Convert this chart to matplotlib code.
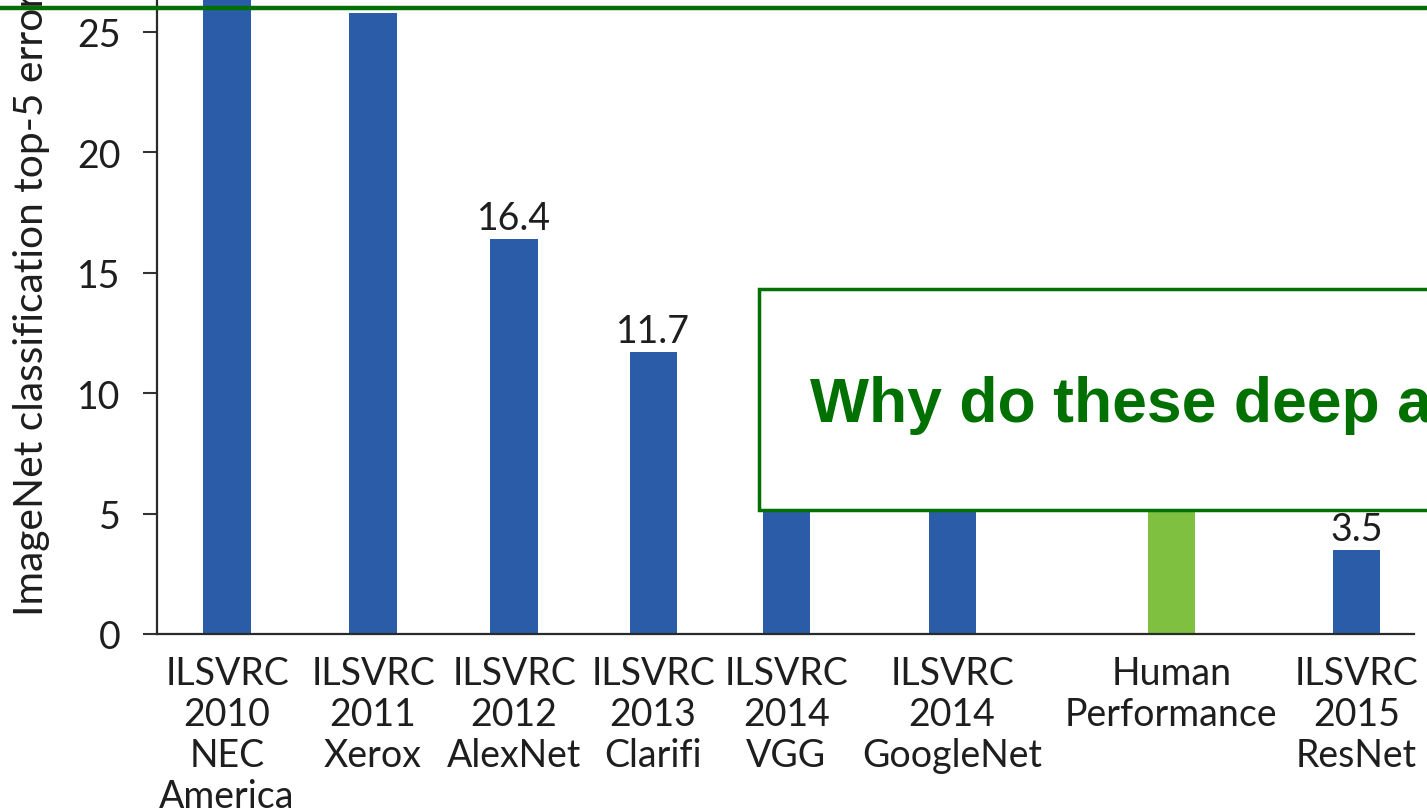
import matplotlib.pyplot as plt
from matplotlib.patches import Rectangle

# data
labels = ['ILSVRC\n2010\nNEC\nAmerica', 'ILSVRC\n2011\nXerox', 'ILSVRC\n2012\nAlexNet',
          'ILSVRC\n2013\nClarifi', 'ILSVRC\n2014\nVGG', 'ILSVRC\n2014\nGoogleNet',
          'Human\nPerformance', 'ILSVRC\n2015\nResNet']
errors = [28.2, 25.8, 16.4, 11.7, 7.3, 6.7, 5.1, 3.5]
is_human = [False, False, False, False, False, False, True, False]
shown_values = [False, False, True, True, True, True, True, True]

# layout: uneven slot centres as in the original
xpos = [0.446, 1.375, 2.272, 3.157, 4.004, 5.06, 6.455, 7.632]

blue = '#2a5ca8'
green_bar = '#80c040'
dark_green = '#007000'
txt = '#1e1e1e'

plt.rcParams['font.family'] = ['Lato', 'DejaVu Sans']

fig = plt.figure(figsize=(14.27, 8.12), dpi=100)
ax = fig.add_axes([0.110, 0.218, 0.881, 0.8897])

colors = [green_bar if h else blue for h in is_human]
bars = ax.bar(xpos, errors, width=0.30, color=colors, zorder=2)
for b, v, s in zip(bars, errors, shown_values):
    if s:
        ax.annotate(f'{v}', (b.get_x() + b.get_width() / 2, v), xytext=(0, 2),
                    textcoords='offset points', ha='center', va='bottom',
                    fontsize=27, color=txt)

ax.set_xlim(0, 8)
ax.set_ylim(0, 30)
ax.set_yticks([0, 5, 10, 15, 20, 25, 30])
ax.set_xticks(xpos)
ax.set_xticklabels(labels, fontsize=27, color=txt, linespacing=1.17)
ax.tick_params(axis='x', length=0, pad=15)
ax.tick_params(axis='y', length=10, width=1.5, pad=16, labelsize=27,
               labelcolor=txt, color='#333333')
ax.set_ylabel('ImageNet classification top-5 error (%)', fontsize=29.3, color=txt)
ax.yaxis.set_label_coords(-0.085, 0.503)
for side in ['top', 'right']:
    ax.spines[side].set_visible(False)
for side in ['left', 'bottom']:
    ax.spines[side].set_linewidth(1.6)
    ax.spines[side].set_color('#2a2a2a')

# overlay box with question
fig.patches.append(Rectangle((759 / 1427, 1 - 511 / 812), 0.6, (511 - 290) / 812,
                             transform=fig.transFigure, facecolor='white',
                             edgecolor=dark_green, linewidth=2.5, zorder=10))
fig.text(810 / 1427, 1 - 406 / 812, 'Why do these deep architectures work?',
         fontsize=45, fontweight='bold', color=dark_green,
         family=['Liberation Sans', 'DejaVu Sans'], va='center', ha='left', zorder=11)

# top green rule
fig.add_artist(plt.Line2D([0, 1], [1 - 9 / 812, 1 - 9 / 812], transform=fig.transFigure,
                          color=dark_green, linewidth=3.2, zorder=12))

fig.savefig('out.png', dpi=100)
